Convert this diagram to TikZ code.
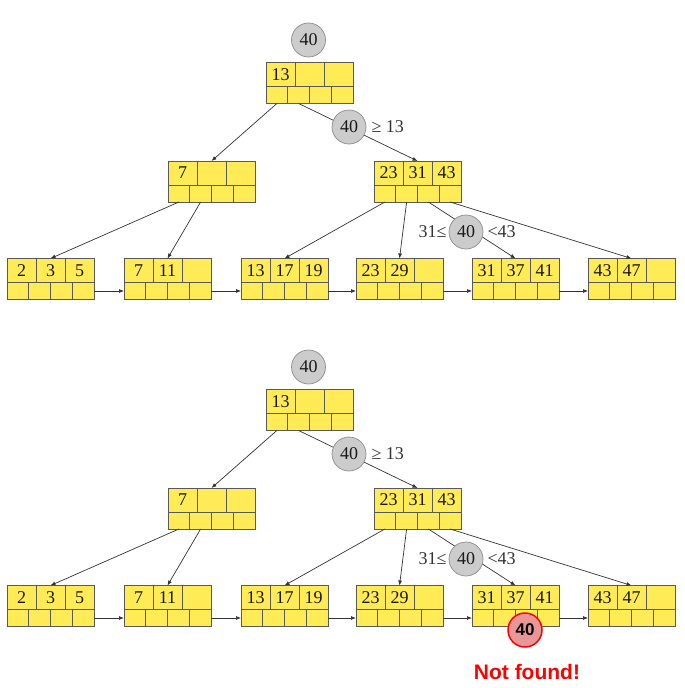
\documentclass[tikz,border=0pt]{standalone}
\usepackage{fontspec}
\setmainfont{Liberation Serif}
\newfontfamily\notefont{Liberation Sans}
\usetikzlibrary{calc,positioning,arrows.meta}

\definecolor{pageyellow}{RGB}{255,235,85}
\definecolor{probegray}{RGB}{204,204,204}
\definecolor{missred}{RGB}{234,150,150}

\tikzset{
  bpage/.style={draw=black!65, fill=pageyellow, minimum width=87pt, minimum height=41pt, inner sep=0pt, outer sep=0pt, line width=0.7pt},
  divider/.style={draw=black!65, line width=0.6pt},
  keytext/.style={font=\fontsize{18}{18}\selectfont, text=black!90, inner sep=0pt},
  ptrline/.style={draw=black!80, line width=0.7pt, -{Latex[length=5pt,width=4pt]}},
  probe/.style={circle, draw=black!45, fill=probegray, minimum size=34pt, inner sep=0pt, line width=0.7pt, text=black!90, font=\fontsize{18}{18}\selectfont},
  cmptext/.style={font=\fontsize{18}{18}\selectfont, text=black!80, inner sep=1pt},
  miss/.style={circle, draw=red, fill=missred, minimum size=34pt, inner sep=0pt, line width=1.5pt, font=\notefont\bfseries\fontsize{17}{17}\selectfont},
  missnote/.style={text=red, font=\notefont\bfseries\fontsize{21}{21}\selectfont}
}

% one B+ tree page: name, centre, three keys
\newcommand{\bnode}[5]{%
  \node[bpage] (#1) at (#2) {};
  \draw[divider] ($(#1.north west)+(0,24)$) -- ($(#1.north east)+(0,24)$);
  \draw[divider] ($(#1.north west)+(29,0)$) -- ++(0,24) ($(#1.north west)+(58,0)$) -- ++(0,24);
  \foreach \ci in {1,2,3} \draw[divider] ($(#1.south west)+(21.75*\ci,0)$) -- ++(0,-17);
  \foreach \ci in {1,...,4} \coordinate (#1-p\ci) at ($(#1.south west)+(21.75*\ci-10.875,0)$);
  \coordinate (#1-l) at ($(#1.south west)+(0,-8.5)$);
  \coordinate (#1-r) at ($(#1.south east)+(0,-8.5)$);
  \node[keytext] at ($(#1.north west)+(14.5,12)$) {#3};
  \node[keytext] at ($(#1.north west)+(43.5,12)$) {#4};
  \node[keytext] at ($(#1.north west)+(72.5,12)$) {#5};
}

\begin{document}
\begin{tikzpicture}[x=1pt,y=-1pt]
  \useasboundingbox (0,0) rectangle (685,688);

  \foreach \side/\dy in {a/0,b/327}{
  \begin{scope}[yshift=-\dy pt]
    \bnode{\side-root}{309.5,83}{13}{}{}
    \bnode{\side-n1}{211.5,181.5}{7}{}{}
    \bnode{\side-n2}{417.5,181.5}{23}{31}{43}
    \bnode{\side-l1}{50.5,279}{2}{3}{5}
    \bnode{\side-l2}{167.5,279}{7}{11}{}
    \bnode{\side-l3}{284.5,279}{13}{17}{19}
    \bnode{\side-l4}{399.5,279}{23}{29}{}
    \bnode{\side-l5}{515.5,279}{31}{37}{41}
    \bnode{\side-l6}{631.5,279}{43}{47}{}

    \draw[ptrline] (\side-root-p1) -- (\side-n1.north);
    \draw[ptrline] (\side-root-p2) -- (\side-n2.north);
    \draw[ptrline] (\side-n1-p1) -- (\side-l1.north);
    \draw[ptrline] (\side-n1-p2) -- (\side-l2.north);
    \draw[ptrline] (\side-n2-p1) -- (\side-l3.north);
    \draw[ptrline] (\side-n2-p2) -- (\side-l4.north);
    \draw[ptrline] (\side-n2-p3) -- (\side-l5.north);
    \draw[ptrline] (\side-n2-p4) -- (\side-l6.north);

    % leaf chain
    \draw[ptrline] (\side-l1-r) -- (\side-l2-l);
    \draw[ptrline] (\side-l2-r) -- (\side-l3-l);
    \draw[ptrline] (\side-l3-r) -- (\side-l4-l);
    \draw[ptrline] (\side-l4-r) -- (\side-l5-l);
    \draw[ptrline] (\side-l5-r) -- (\side-l6-l);

    % search key 40
    \node[probe] (\side-q0) at (308.5,40) {40};
    \node[probe] (\side-q1) at (349,127) {40};
    \node[cmptext, right=4pt of \side-q1] (\side-ge) {≥ 13};
    \node[probe] (\side-q2) at (466,232) {40};
    \node[cmptext, left=1pt of \side-q2] (\side-lo) {31≤};
    \node[cmptext, right=3pt of \side-q2] (\side-hi) {<43};
  \end{scope}}

  \node[miss] (miss) at (525,630) {40};
  \node[missnote] (note) at (527,672) {Not found!};
\end{tikzpicture}
\end{document}
